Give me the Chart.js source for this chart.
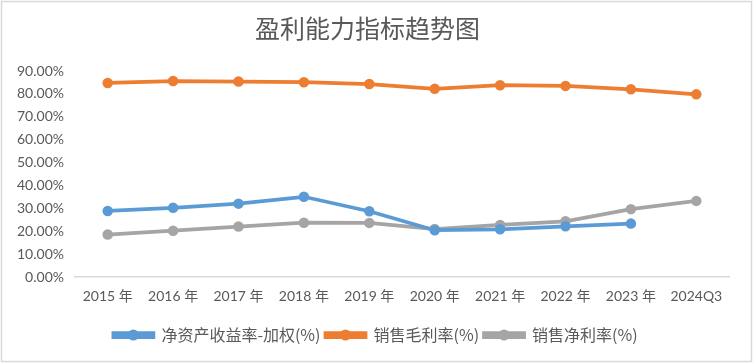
<!DOCTYPE html>
<html>
<head>
<meta charset="utf-8">
<script src="https://cdn.jsdelivr.net/npm/chart.js@4/dist/chart.umd.min.js"></script>
<style>
  body { margin: 0; background: #fff; }
</style>
</head>
<body>
<canvas id="myChart" width="753" height="363"></canvas>
<script>
// data (percent)
const years = ["2015 年", "2016 年", "2017 年", "2018 年", "2019 年", "2020 年", "2021 年", "2022 年", "2023 年", "2024Q3"];
const roeWeighted = [28.9, 30.3, 32.1, 35.1, 28.8, 20.5, 20.9, 22.2, 23.4, null];
const grossMargin = [84.8, 85.6, 85.4, 85.1, 84.3, 82.2, 83.8, 83.5, 82.0, 79.8];
const netMargin = [18.6, 20.3, 22.1, 23.8, 23.7, 21.0, 22.8, 24.4, 29.7, 33.3];
const seriesNames = ["净资产收益率-加权(%)", "销售毛利率(%)", "销售净利率(%)"];
const yTicks = [0, 10, 20, 30, 40, 50, 60, 70, 80, 90];

const colors = ["#5b9bd5", "#ed7d31", "#a5a5a5"];
const txtFont = "Lato, 'Noto Sans CJK SC', sans-serif";
const cjkFont = "'Noto Sans CJK SC', sans-serif";

// white background + light frame like the Excel chart area
const framePlugin = {
  id: "frame",
  beforeDraw(chart) {
    const c = chart.ctx;
    c.save();
    c.fillStyle = "#fff";
    c.fillRect(0, 0, chart.width, chart.height);
    c.strokeStyle = "#d9d9d9";
    c.lineWidth = 1.5;
    c.strokeRect(1.5, 1.5, chart.width - 3, chart.height - 3);
    c.restore();
  }
};

// legend is centred on the whole canvas, not the plot; add a dot on each line
const legendDots = {
  id: "legendDots",
  afterUpdate(chart) {
    const lg = chart.legend;
    if (!lg) return;
    const dx = 8;
    lg.left += dx;
    lg.right += dx;
    (lg.legendHitBoxes || []).forEach(function (b) { b.left += dx; });
  },
  afterDraw(chart) {
    const lg = chart.legend;
    if (!lg || !lg.legendHitBoxes) return;
    const c = chart.ctx;
    c.save();
    lg.legendHitBoxes.forEach(function (box, i) {
      const bw = lg.options.labels.boxWidth;
      c.beginPath();
      c.arc(box.left + bw / 2, box.top + box.height / 2, 5.5, 0, Math.PI * 2);
      c.fillStyle = colors[i];
      c.fill();
    });
    c.restore();
  }
};

const ctx = document.getElementById("myChart").getContext("2d");
const lists = [roeWeighted, grossMargin, netMargin];
const myChart = new Chart(ctx, {
  type: "line",
  data: {
    labels: years,
    datasets: lists.map(function (vals, i) {
      return {
        label: seriesNames[i],
        data: vals,
        borderColor: colors[i],
        backgroundColor: colors[i],
        borderWidth: 3.75,
        pointRadius: 5.25,
        pointBackgroundColor: colors[i],
        pointBorderWidth: 0,
        tension: 0,
        spanGaps: false
      };
    })
  },
  options: {
    responsive: false,
    animation: false,
    layout: { padding: { top: 4, left: 6, right: 24, bottom: 10 } },
    plugins: {
      title: {
        display: true,
        text: "盈利能力指标趋势图",
        color: "#595959",
        font: { family: cjkFont, size: 25, weight: "normal" },
        padding: { top: 9, bottom: 28 }
      },
      legend: {
        position: "bottom",
        labels: {
          color: "#595959",
          font: { family: cjkFont, size: 16 },
          boxWidth: 40,
          boxHeight: 4,
          padding: 5
        }
      },
      tooltip: { enabled: false }
    },
    scales: {
      x: {
        offset: true,
        grid: { display: false, drawTicks: false },
        border: { display: true, color: "#d9d9d9", width: 1.5 },
        afterFit(scale) { scale.height += 6; },
        ticks: {
          color: "#595959",
          font: { family: txtFont, size: 14 },
          padding: 11,
          maxRotation: 0,
          autoSkip: false
        }
      },
      y: {
        min: yTicks[0],
        max: yTicks[yTicks.length - 1],
        afterBuildTicks(scale) {
          scale.ticks = yTicks.map(function (v) { return { value: v }; });
        },
        grid: { display: false, drawTicks: false },
        border: { display: false },
        ticks: {
          color: "#595959",
          font: { family: txtFont, size: 14 },
          padding: 11,
          callback: function (v) { return v.toFixed(2) + "%"; }
        }
      }
    }
  },
  plugins: [framePlugin, legendDots]
});
</script>
</body>
</html>
